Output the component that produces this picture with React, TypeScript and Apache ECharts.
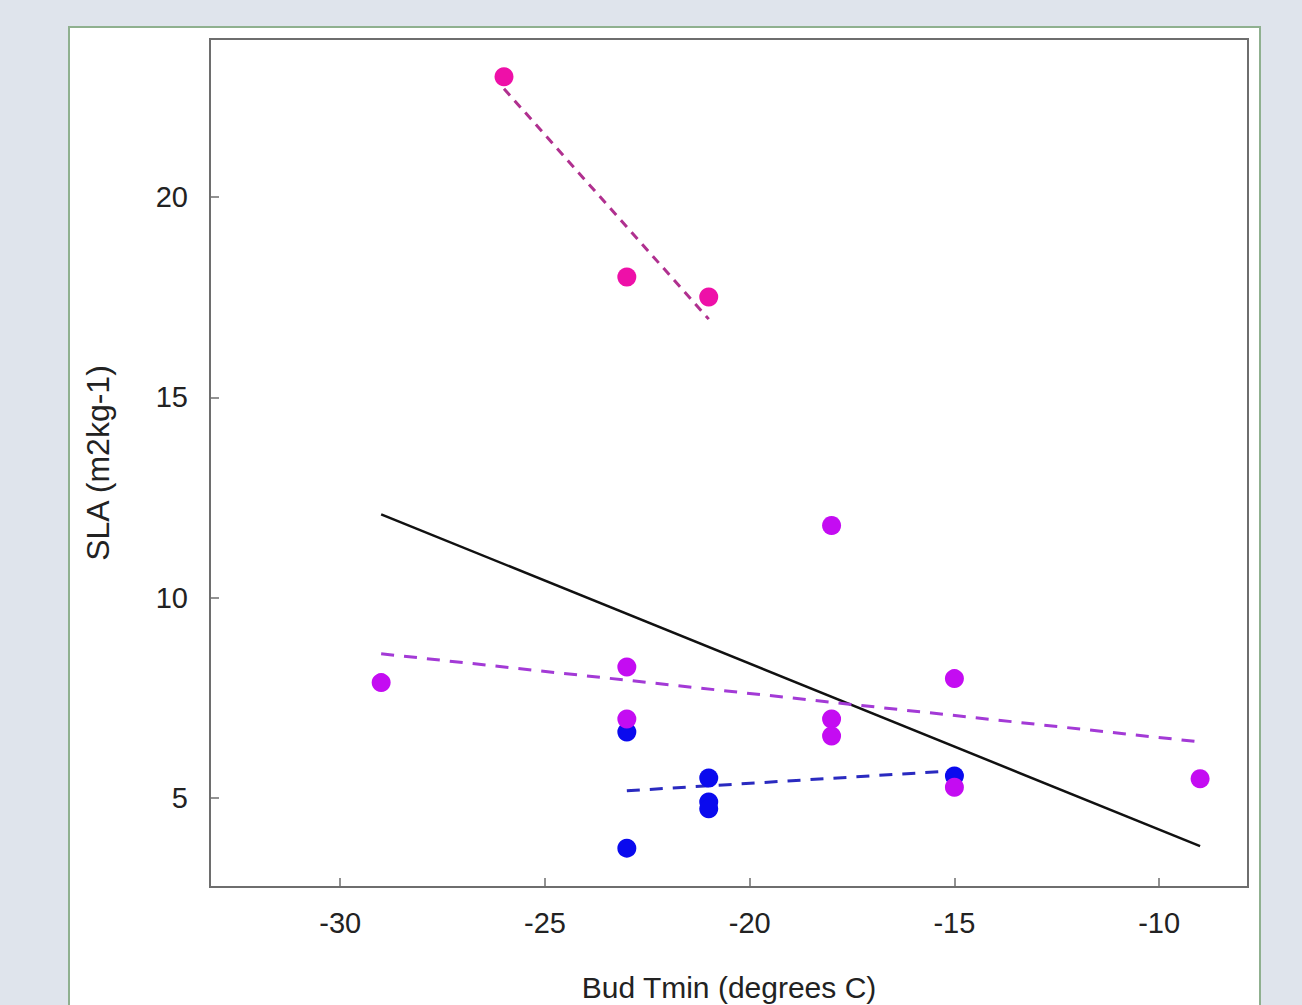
import React, { useEffect, useRef } from "react";
import * as echarts from "echarts";

const xTicks = [-30, -25, -20, -15, -10];
const yTicks = [5, 10, 15, 20];

const pinkPoints: [number, number][] = [[-26, 23.0], [-23, 18.0], [-21, 17.5]];
const purplePoints: [number, number][] = [
  [-29, 7.88], [-23, 8.27], [-23, 6.97], [-18, 11.8], [-18, 6.97], [-18, 6.55],
  [-15, 7.98], [-15, 5.27], [-9, 5.48],
];
const bluePoints: [number, number][] = [
  [-23, 6.65], [-23, 3.75], [-21, 5.5], [-21, 4.9], [-21, 4.73], [-15, 5.55],
];

const pinkFit: [number, number][] = [[-26, 22.7], [-21, 16.95]];
const purpleFit: [number, number][] = [[-29, 8.6], [-9, 6.4]];
const blueFit: [number, number][] = [[-23, 5.18], [-15, 5.68]];
const allFit: [number, number][] = [[-29, 12.08], [-9, 3.8]];

export default function App() {
  const ref = useRef<HTMLDivElement>(null);
  useEffect(() => {
    const chart = echarts.init(ref.current!, null, { renderer: "svg" });
    const font = "Liberation Sans, Arial, sans-serif";
    chart.setOption({
      animation: false,
      backgroundColor: "#dfe4ec",
      graphic: [
        {
          type: "rect",
          z: -10,
          shape: { x: 69, y: 27, width: 1191, height: 1000 },
          style: { fill: "#ffffff", stroke: "#8fb08f", lineWidth: 2 },
        },
      ],
      grid: {
        left: 210, top: 39, right: 54, bottom: 118,
        outerBoundsMode: "none",
        containLabel: false,
        show: true, borderColor: "#6e6e6e", borderWidth: 2, backgroundColor: "transparent",
      },
      xAxis: {
        type: "value",
        min: -33.18,
        max: -7.83,
        name: "Bud Tmin (degrees C)",
        nameLocation: "middle",
        nameGap: 85,
        nameTextStyle: { fontFamily: font, fontSize: 30, color: "#222" },
        splitLine: { show: false },
        axisLine: { show: true, lineStyle: { color: "#6e6e6e", width: 2 } },
        axisTick: { show: true, inside: true, length: 9, customValues: xTicks, lineStyle: { color: "#6e6e6e", width: 1.5 } },
        axisLabel: { customValues: xTicks, margin: 21, fontFamily: font, fontSize: 29, color: "#222" },
      },
      yAxis: {
        type: "value",
        min: 2.78,
        max: 23.94,
        name: "SLA (m2kg-1)",
        nameLocation: "middle",
        nameGap: 96,
        nameRotate: 90,
        nameTextStyle: { fontFamily: font, fontSize: 32, color: "#222" },
        splitLine: { show: false },
        axisLine: { show: true, lineStyle: { color: "#6e6e6e", width: 2 } },
        axisTick: { show: true, inside: true, length: 9, customValues: yTicks, lineStyle: { color: "#6e6e6e", width: 1.5 } },
        axisLabel: { customValues: yTicks, margin: 22, fontFamily: font, fontSize: 29, color: "#222" },
      },
      series: [
        {
          type: "line", data: allFit, symbol: "none", z: 2,
          lineStyle: { color: "#111", width: 2.5 },
        },
        {
          type: "line", data: pinkFit, symbol: "none", z: 2,
          lineStyle: { color: "#b0308f", width: 3, type: [9, 7] },
        },
        {
          type: "line", data: purpleFit, symbol: "none", z: 2,
          lineStyle: { color: "#a33ad6", width: 3, type: [13, 10] },
        },
        {
          type: "line", data: blueFit, symbol: "none", z: 2,
          lineStyle: { color: "#2a2ac0", width: 3, type: [13, 10] },
        },
        {
          type: "scatter", data: bluePoints, symbolSize: 19, z: 3,
          itemStyle: { color: "#0a0aee", opacity: 1 },
        },
        {
          type: "scatter", data: purplePoints, symbolSize: 19, z: 4,
          itemStyle: { color: "#c40cf2", opacity: 1 },
        },
        {
          type: "scatter", data: pinkPoints, symbolSize: 19, z: 4,
          itemStyle: { color: "#ee10a8", opacity: 1 },
        },
      ],
    });
    return () => chart.dispose();
  }, []);
  return (
    <div
      ref={ref}
      style={{ position: "absolute", left: 0, top: 0, width: 1302, height: 1005 }}
    />
  );
}
